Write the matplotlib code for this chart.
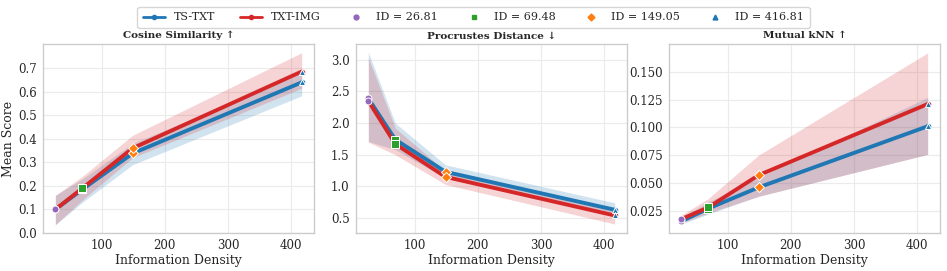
import numpy as np
import matplotlib
matplotlib.use("Agg")
import matplotlib.pyplot as plt
import seaborn as sns
from matplotlib.lines import Line2D

sns.set_style("whitegrid")
plt.rcParams['font.family'] = ['DejaVu Serif', 'DejaVu Sans']

# information density of each dataset
ids = [26.81, 69.48, 149.05, 416.81]
id_labels = ["ID = 26.81", "ID = 69.48", "ID = 149.05", "ID = 416.81"]
id_colors = ["#9467bd", "#2ca02c", "#ff7f0e", "#1f77b4"]
id_markers = ["o", "s", "D", "^"]
id_sizes = [5, 5.5, 5.5, 4.5]

titles = ["Cosine Similarity ↑", "Procrustes Distance ↓", "Mutual kNN ↑"]

# cosine similarity
cos_ts = [0.10, 0.185, 0.338, 0.640]
cos_ts_lo = [0.035, 0.13, 0.29, 0.583]
cos_ts_hi = [0.160, 0.23, 0.38, 0.680]
cos_img = [0.10, 0.190, 0.360, 0.686]
cos_img_lo = [0.035, 0.14, 0.32, 0.615]
cos_img_hi = [0.160, 0.24, 0.415, 0.766]

# procrustes distance
pro_ts = [2.39, 1.74, 1.23, 0.63]
pro_ts_lo = [1.71, 1.58, 1.13, 0.53]
pro_ts_hi = [3.12, 2.00, 1.34, 0.74]
pro_img = [2.35, 1.67, 1.15, 0.54]
pro_img_lo = [1.70, 1.50, 1.03, 0.405]
pro_img_hi = [3.03, 1.92, 1.24, 0.63]

# mutual kNN
knn_ts = [0.0155, 0.027, 0.046, 0.101]
knn_ts_lo = [0.013, 0.022, 0.038, 0.0757]
knn_ts_hi = [0.019, 0.033, 0.055, 0.127]
knn_img = [0.0175, 0.028, 0.057, 0.121]
knn_img_lo = [0.014, 0.023, 0.038, 0.0757]
knn_img_hi = [0.021, 0.036, 0.075, 0.167]

yticks = [
    [0.0, 0.1, 0.2, 0.3, 0.4, 0.5, 0.6, 0.7],
    [0.5, 1.0, 1.5, 2.0, 2.5, 3.0],
    [0.025, 0.05, 0.075, 0.1, 0.125, 0.15],
]

panels = [
    (cos_ts, cos_ts_lo, cos_ts_hi, cos_img, cos_img_lo, cos_img_hi, (0.0, 0.803)),
    (pro_ts, pro_ts_lo, pro_ts_hi, pro_img, pro_img_lo, pro_img_hi, (0.263, 3.25)),
    (knn_ts, knn_ts_lo, knn_ts_hi, knn_img, knn_img_lo, knn_img_hi, (0.005, 0.175)),
]

blue = "#1f77b4"
red = "#d62728"

fig, axes = plt.subplots(1, 3, figsize=(9.47, 2.71), dpi=100)
fig.subplots_adjust(left=0.0454, right=0.9926, bottom=0.1402, top=0.8376, wspace=0.155)

for ax, title, yt, (ts, ts_lo, ts_hi, img, img_lo, img_hi, ylim) in zip(axes, titles, yticks, panels):
    ax.fill_between(ids, ts_lo, ts_hi, color=blue, alpha=0.2, linewidth=0)
    ax.fill_between(ids, img_lo, img_hi, color=red, alpha=0.2, linewidth=0)
    ax.plot(ids, ts, color=blue, linewidth=2.8, marker="o", markersize=3)
    ax.plot(ids, img, color=red, linewidth=2.8, marker="o", markersize=3)
    for i in range(len(ids)):
        for series in (ts, img):
            ax.plot(ids[i], series[i], marker=id_markers[i], color=id_colors[i],
                    markersize=id_sizes[i], markeredgecolor="white",
                    markeredgewidth=0.7, linestyle="none", zorder=5)
    ax.set_title(title, fontsize=7.5, fontweight="bold", pad=4)
    ax.set_xlabel("Information Density", fontsize=9, labelpad=1)
    ax.set_ylim(*ylim)
    ax.set_xlim(7.3, 436.3)
    ax.set_xticks([100, 200, 300, 400])
    ax.set_yticks(yt)
    ax.tick_params(labelsize=8.5, pad=1)
    ax.grid(color="#ebebeb", linewidth=0.8)
    for sp in ax.spines.values():
        sp.set_color("#cccccc")
        sp.set_linewidth(1.0)

axes[0].set_ylabel("Mean Score", fontsize=9, labelpad=2)

handles = [
    Line2D([], [], color=blue, linewidth=2, marker="o", markersize=3, label="TS-TXT"),
    Line2D([], [], color=red, linewidth=2, marker="o", markersize=3, label="TXT-IMG"),
]
for lab, c, m in zip(id_labels, id_colors, id_markers):
    handles.append(Line2D([], [], color=c, marker=m, markersize=3.5, linestyle="none", label=lab))

fig.legend(handles=handles, loc="upper center", bbox_to_anchor=(0.5, 0.995), ncol=6,
           fontsize=8, frameon=True, edgecolor="#cccccc", handlelength=2.0,
           columnspacing=2.2, borderpad=0.5)

fig.savefig("out.png", dpi=100)
